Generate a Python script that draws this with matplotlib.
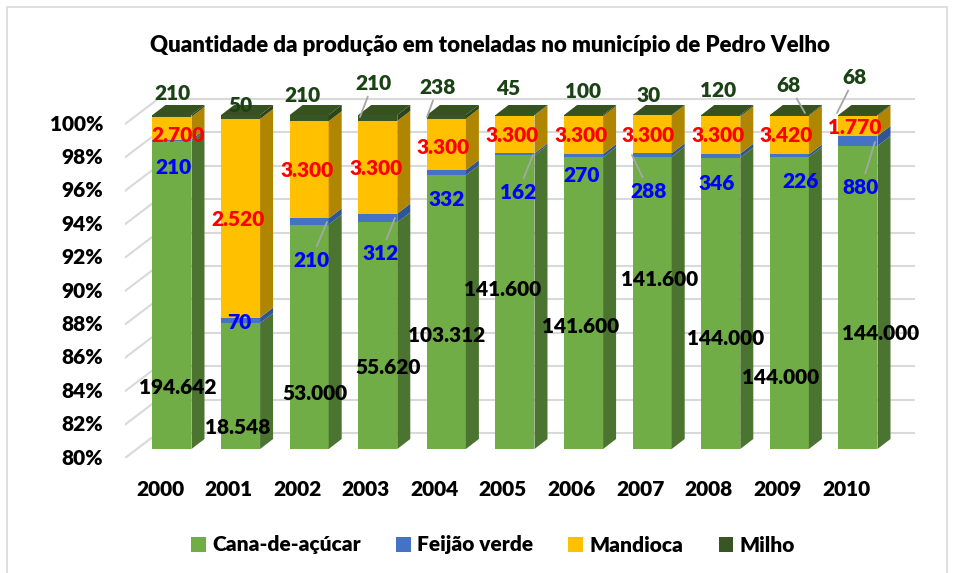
import matplotlib.pyplot as plt
from matplotlib.patches import Polygon, Rectangle, Patch

plt.rcParams['font.family'] = ['Lato', 'DejaVu Sans']
plt.rcParams['font.weight'] = 'heavy'

years = ['2000', '2001', '2002', '2003', '2004', '2005', '2006', '2007', '2008', '2009', '2010']
cana = [194642, 18548, 53000, 55620, 103312, 141600, 141600, 141600, 144000, 144000, 144000]
feijao = [210, 70, 210, 312, 332, 162, 270, 288, 346, 226, 880]
mandioca = [2700, 2520, 3300, 3300, 3300, 3300, 3300, 3300, 3300, 3420, 1770]
milho = [210, 50, 210, 210, 238, 45, 100, 30, 120, 68, 68]

series_names = ['Cana-de-açúcar', 'Feijão verde', 'Mandioca', 'Milho']
series = [cana, feijao, mandioca, milho]
front_col = ['#70AD47', '#4472C4', '#FFC000', '#375623']
side_col = ['#4A7430', '#2F5597', '#B08500', '#2B441B']
top_col = '#36521F'
label_col = ['black', '#0000FF', '#FF0000', '#1B4215']
fmt = lambda v: f'{v:,}'.replace(',', '.')

# pixel geometry of the excel 3d look
X0, SX = 160, 68.6     # floor-front px of category 0, px per category
Y0, SY = 458, 16.7     # px of 80 %, px per percent
def px(x, y):
    return (x - X0) / SX, 80 + (Y0 - y) / SY

bar_dx, bar_dy = 12 / SX, 9 / SY        # bar front offset from floor front
dep_dx, dep_dy = 13 / SX, 10 / SY       # bar depth
wall_dx, wall_dy = 33 / SX, 25 / SY     # floor depth
w = 39 / SX
fs = 15

# label placement (pixels, dragged labels in original)
lab_px = {
    0: [(178, 387), (238, 427), (315, 393), (388, 367), (447, 335), (503, 290),
        (581, 326), (660, 279), (726, 338), (781, 378), (881, 333)],
    1: [(173, 167), (239, 322), (311, 260), (381, 253), (447, 200), (518, 192),
        (582, 176), (649, 191), (717, 183), (801, 181), (861, 187)],
    2: [(178, 135), (238, 220), (307, 170), (376, 168), (443, 147), (512, 136),
        (581, 135), (648, 135), (718, 135), (786, 136), (855, 127)],
    3: [(172, 93), (240, 105), (302, 95), (373, 83), (438, 87), (508, 88),
        (583, 92), (649, 95), (718, 90), (789, 85), (855, 77)],
}
# leader lines: (series, year index) -> target pixel
leaders = {
    (3, 3): (360, 117), (3, 4): (427, 117), (3, 9): (805, 113), (3, 10): (837, 113),
    (1, 2): (327, 222), (1, 3): (395, 218), (1, 5): (533, 155), (1, 7): (632, 155),
    (1, 10): (875, 142),
}

fig = plt.figure(figsize=(9.54, 5.73), dpi=100)
fig.patches.append(Rectangle((7 / 954, -0.01), 940 / 954, 1 - 7 / 573 + 0.01,
                             transform=fig.transFigure, fill=False,
                             edgecolor='#D9D9D9', lw=1.2))
ax = fig.add_axes([125 / 954, (573 - 458) / 573, (915 - 125) / 954, (458 - 82) / 573])
xmin, xmax = -0.51, 11.006
ax.set_xlim(xmin, xmax)
ax.set_ylim(80, 80 + (458 - 82) / SY)
ax.axis('off')

# walls: gridlines on back wall + slanted lines on side wall
ticks = list(range(80, 101, 2))
for t in ticks:
    ax.plot([xmin + wall_dx, xmax], [t + wall_dy] * 2, color='#D9D9D9', lw=1.5, zorder=0)
    ax.plot([xmin, xmin + wall_dx], [t, t + wall_dy], color='#D9D9D9', lw=1.5, zorder=0)
    ax.text(xmin - 0.32, t, f'{t}%', ha='right', va='center', fontsize=fs)

for i, yr in enumerate(years):
    ax.text(i, 78.1, yr, ha='center', va='center', fontsize=fs, clip_on=False)
    total = sum(s[i] for s in series)
    xl = i + bar_dx - w / 2
    xr = i + bar_dx + w / 2
    bottom = 0
    for k, s in enumerate(series):
        pct = s[i] / total * 100
        lo = max(bottom, 80) + bar_dy
        hi = bottom + pct + bar_dy
        bottom += pct
        if hi <= 80:
            continue
        ax.add_patch(Rectangle((xl, lo), w, hi - lo, facecolor=front_col[k], lw=0, zorder=2))
        ax.add_patch(Polygon([(xr, lo), (xr + dep_dx, lo + dep_dy), (xr + dep_dx, hi + dep_dy), (xr, hi)],
                             facecolor=side_col[k], lw=0, zorder=2))
    ax.add_patch(Polygon([(xl, hi), (xl + dep_dx, hi + dep_dy), (xr + dep_dx, hi + dep_dy), (xr, hi)],
                         facecolor=top_col, lw=0, zorder=2))

    for k, s in enumerate(series):
        tx, ty = px(*lab_px[k][i])
        if (k, i) in leaders:
            ax.annotate(fmt(s[i]), xy=px(*leaders[(k, i)]), xytext=(tx, ty),
                        ha='center', va='center', fontsize=fs, color=label_col[k],
                        zorder=5, annotation_clip=False,
                        arrowprops=dict(arrowstyle='-', color='#A6A6A6', lw=1.3,
                                        shrinkA=1, shrinkB=0))
        else:
            ax.text(tx, ty, fmt(s[i]), ha='center', va='center', fontsize=fs,
                    color=label_col[k], zorder=5, clip_on=False)

fig.text(490 / 954, 1 - 45 / 573, 'Quantidade da produção em toneladas no município de Pedro Velho',
         ha='center', va='center', fontsize=16)

handles = [Patch(facecolor=c, lw=0) for c in front_col]
fig.legend(handles, series_names, loc='center', bbox_to_anchor=(493 / 954, 1 - 545 / 573),
           ncol=4, frameon=False, fontsize=fs, handlelength=0.7, handleheight=0.7,
           handletextpad=0.3, columnspacing=1.7)

fig.savefig('out.png', dpi=100)
